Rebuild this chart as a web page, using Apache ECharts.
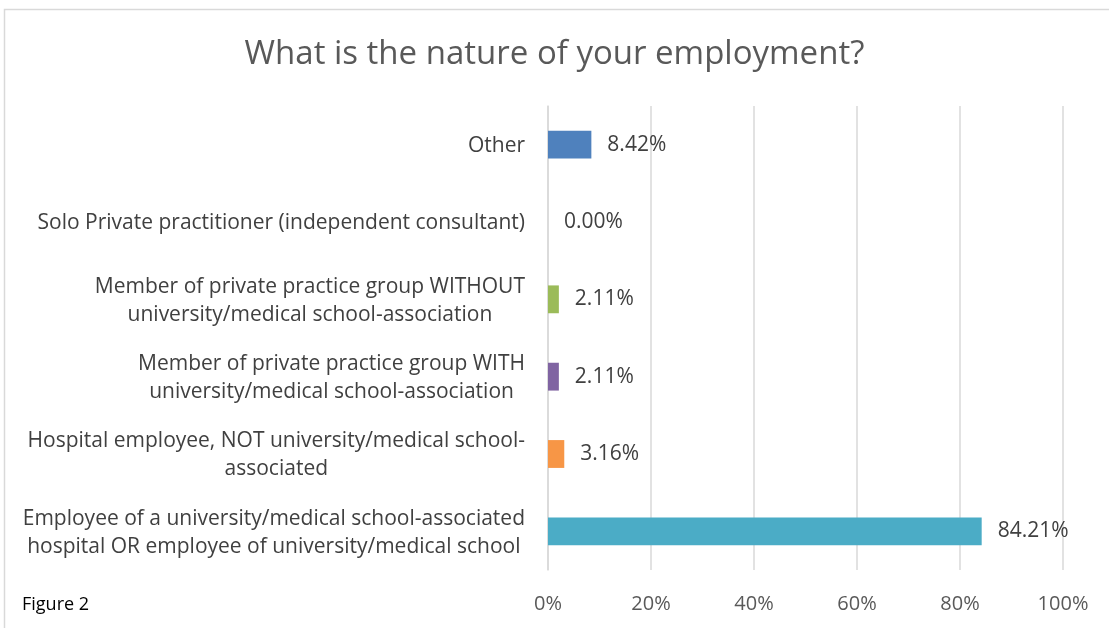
<!DOCTYPE html>
<html>
<head>
<meta charset="utf-8">
<script src="https://cdn.jsdelivr.net/npm/echarts@6/dist/echarts.min.js"></script>
<style>html,body{margin:0;padding:0;background:#fff;}#c{width:1109px;height:628px;}</style>
</head>
<body>
<div id="c"></div>
<script>
// Categories listed bottom-to-top (ECharts category yAxis starts at the bottom)
const categories = [
  "Employee of a university/medical school-associated\nhospital OR employee of university/medical school",
  "Hospital employee, NOT university/medical school-\nassociated",
  "Member of private practice group WITH\nuniversity/medical school-association",
  "Member of private practice group WITHOUT\nuniversity/medical school-association",
  "Solo Private practitioner (independent consultant)",
  "Other"
];
const values = [84.21, 3.16, 2.11, 2.11, 0.00, 8.42];
const barColors = ["#4BACC6", "#F79646", "#8064A2", "#9BBB59", "#4F81BD", "#4F81BD"];
const xTicks = [0, 20, 40, 60, 80, 100];

const chart = echarts.init(document.getElementById('c'));
const FONT = 'Open Sans';
chart.setOption({
  backgroundColor: '#fff',
  animation: false,
  title: {
    text: 'What is the nature of your employment?',
    left: 'center',
    top: 33,
    textStyle: { fontFamily: FONT, fontSize: 33, fontWeight: 'normal', color: '#595959' }
  },
  graphic: [
    { type: 'rect', left: 2, top: 7, shape: { width: 1200, height: 700 }, style: { fill: 'none', stroke: '#D9D9D9', lineWidth: 1.5 }, silent: true, z: -1 },
    { type: 'text', left: 22, top: 596, style: { text: 'Figure 2', fontFamily: FONT, fontSize: 18, fill: '#000' } }
  ],
  grid: { left: 548, right: 46, top: 106, bottom: 58, containLabel: false },
  xAxis: {
    type: 'value', min: 0, max: 100, interval: 20,
    axisLine: { show: false }, axisTick: { show: false },
    splitLine: { lineStyle: { color: '#D9D9D9', width: 1.5 } },
    axisLabel: { margin: 24, fontFamily: FONT, fontSize: 20, color: '#595959', formatter: v => v + '%' }
  },
  yAxis: {
    type: 'category', data: categories,
    axisLine: { show: true, lineStyle: { color: '#D9D9D9', width: 1.5 } },
    axisTick: { show: false },
    axisLabel: {
      margin: 23, color: '#404040', fontFamily: FONT, fontSize: 21, lineHeight: 28,
      formatter: v => v.split('\n').map(s => '{c|' + s + '}').join('\n'),
      rich: { c: { align: 'center', fontFamily: FONT, fontSize: 21, lineHeight: 28, color: '#404040', padding: [3, 0, 0, 0] } }
    }
  },
  series: [{
    type: 'bar',
    barWidth: '36%',
    data: values.map((v, i) => ({ value: v, itemStyle: { color: barColors[i] } })),
    label: {
      show: true, position: 'right', distance: 16,
      fontFamily: FONT, fontSize: 21, color: '#404040',
      formatter: p => p.value.toFixed(2) + '%'
    }
  }]
});
</script>
</body>
</html>
